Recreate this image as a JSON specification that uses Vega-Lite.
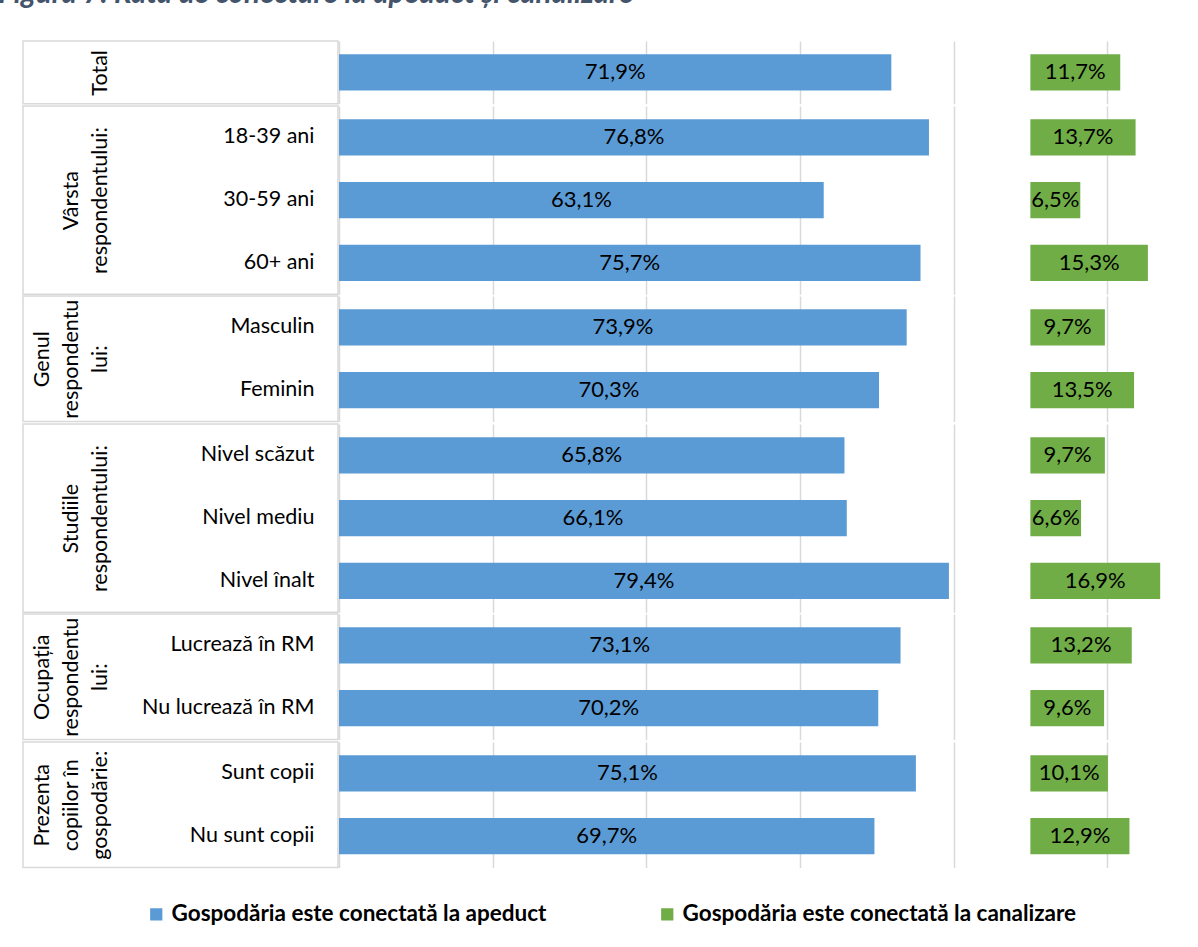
{
  "$schema": "https://vega.github.io/schema/vega-lite/v6.json",
  "padding": {"left": -2, "top": -22, "right": 0, "bottom": 0},
  "title": {"text": "Figura 7. Rata de conectare la apeduct și canalizare", "anchor": "start", "fontSize": 29.5, "font": "Lato", "fontStyle": "italic", "fontWeight": "bold", "color": "#44546A", "baseline": "bottom", "offset": 2, "dx": -24},
  "data": {"values": [
    {"group": "Total", "sub": "Total", "series": "Gospodăria este conectată la apeduct", "value": 0.719},
    {"group": "Total", "sub": "Total", "series": "Gospodăria este conectată la canalizare", "value": 0.117},
    {"group": "Vârsta", "sub": "18-39 ani", "series": "Gospodăria este conectată la apeduct", "value": 0.768},
    {"group": "Vârsta", "sub": "18-39 ani", "series": "Gospodăria este conectată la canalizare", "value": 0.137},
    {"group": "Vârsta", "sub": "30-59 ani", "series": "Gospodăria este conectată la apeduct", "value": 0.631},
    {"group": "Vârsta", "sub": "30-59 ani", "series": "Gospodăria este conectată la canalizare", "value": 0.065},
    {"group": "Vârsta", "sub": "60+ ani", "series": "Gospodăria este conectată la apeduct", "value": 0.757},
    {"group": "Vârsta", "sub": "60+ ani", "series": "Gospodăria este conectată la canalizare", "value": 0.153},
    {"group": "Genul", "sub": "Masculin", "series": "Gospodăria este conectată la apeduct", "value": 0.739},
    {"group": "Genul", "sub": "Masculin", "series": "Gospodăria este conectată la canalizare", "value": 0.097},
    {"group": "Genul", "sub": "Feminin", "series": "Gospodăria este conectată la apeduct", "value": 0.703},
    {"group": "Genul", "sub": "Feminin", "series": "Gospodăria este conectată la canalizare", "value": 0.135},
    {"group": "Studiile", "sub": "Nivel scăzut", "series": "Gospodăria este conectată la apeduct", "value": 0.658},
    {"group": "Studiile", "sub": "Nivel scăzut", "series": "Gospodăria este conectată la canalizare", "value": 0.097},
    {"group": "Studiile", "sub": "Nivel mediu", "series": "Gospodăria este conectată la apeduct", "value": 0.661},
    {"group": "Studiile", "sub": "Nivel mediu", "series": "Gospodăria este conectată la canalizare", "value": 0.066},
    {"group": "Studiile", "sub": "Nivel înalt", "series": "Gospodăria este conectată la apeduct", "value": 0.794},
    {"group": "Studiile", "sub": "Nivel înalt", "series": "Gospodăria este conectată la canalizare", "value": 0.169},
    {"group": "Ocupația", "sub": "Lucrează în RM", "series": "Gospodăria este conectată la apeduct", "value": 0.731},
    {"group": "Ocupația", "sub": "Lucrează în RM", "series": "Gospodăria este conectată la canalizare", "value": 0.132},
    {"group": "Ocupația", "sub": "Nu lucrează în RM", "series": "Gospodăria este conectată la apeduct", "value": 0.702},
    {"group": "Ocupația", "sub": "Nu lucrează în RM", "series": "Gospodăria este conectată la canalizare", "value": 0.096},
    {"group": "Prezenta", "sub": "Sunt copii", "series": "Gospodăria este conectată la apeduct", "value": 0.751},
    {"group": "Prezenta", "sub": "Sunt copii", "series": "Gospodăria este conectată la canalizare", "value": 0.101},
    {"group": "Prezenta", "sub": "Nu sunt copii", "series": "Gospodăria este conectată la apeduct", "value": 0.697},
    {"group": "Prezenta", "sub": "Nu sunt copii", "series": "Gospodăria este conectată la canalizare", "value": 0.129}
  ]},
  "spacing": 0,
  "vconcat": [
    {"spacing": 0, "hconcat": [
      {"width": 315, "height": {"step": 62.75},
       "transform": [{"filter": "datum.group === 'Total' && indexof(datum.series, 'apeduct') >= 0"}],
       "mark": {"type": "text", "opacity": 0},
       "encoding": {"y": {"field": "sub", "type": "nominal", "sort": null, "scale": {"type": "band", "paddingInner": 0, "paddingOuter": 0}, "axis": {"orient": "right", "labels": false, "title": ["Total"], "titleX": -227}}}},
      {"width": 845, "height": {"step": 62.75}, "view": {"stroke": null},
       "transform": [{"filter": "datum.group === 'Total'"}],
       "encoding": {"y": {"field": "sub", "type": "nominal", "sort": null, "scale": {"paddingInner": 0, "paddingOuter": 0}, "axis": null}},
       "layer": [
         {"transform": [{"filter": "indexof(datum.series, 'apeduct') >= 0"}], "mark": {"type": "bar", "height": {"band": 0.58}},
          "encoding": {"x": {"field": "value", "type": "quantitative", "stack": null, "scale": {"domain": [0, 1.1], "nice": false}, "axis": {"values": [0, 0.2, 0.4, 0.6, 0.8, 1], "grid": true, "labels": false, "ticks": false, "domain": false, "title": null}},
                       "color": {"field": "series", "type": "nominal", "scale": {"domain": ["Gospodăria este conectată la apeduct", "Gospodăria este conectată la canalizare"], "range": ["#5B9BD5", "#70AD47"]}, "legend": {"orient": "none", "legendX": 122, "legendY": 862, "direction": "horizontal", "title": null}}}},
         {"transform": [{"filter": "indexof(datum.series, 'canalizare') >= 0"}], "mark": {"type": "bar", "height": {"band": 0.58}},
          "encoding": {"x": {"field": "value", "type": "quantitative", "stack": null, "scale": {"domain": [-0.9, 0.2], "nice": false}, "axis": null},
                       "color": {"field": "series", "type": "nominal"}}},
         {"transform": [{"filter": "indexof(datum.series, 'apeduct') >= 0"}], "mark": {"type": "text"},
          "encoding": {"x": {"field": "value", "type": "quantitative", "scale": {"domain": [0, 2.2], "nice": false}, "axis": null}, "text": {"field": "value", "type": "quantitative", "format": ".1%"}}},
         {"transform": [{"filter": "indexof(datum.series, 'canalizare') >= 0"}], "mark": {"type": "text"},
          "encoding": {"x": {"field": "value", "type": "quantitative", "scale": {"domain": [-1.8, 0.4], "nice": false}, "axis": null}, "text": {"field": "value", "type": "quantitative", "format": ".1%"}}}
       ],
       "resolve": {"scale": {"x": "independent"}, "axis": {"x": "independent"}}}
    ]},
    {"spacing": 0, "hconcat": [
      {"width": 315, "height": {"step": 62.75},
       "transform": [{"filter": "datum.group === 'Vârsta' && indexof(datum.series, 'apeduct') >= 0"}],
       "mark": {"type": "text", "opacity": 0},
       "encoding": {"y": {"field": "sub", "type": "nominal", "sort": null, "scale": {"type": "band", "paddingInner": 0, "paddingOuter": 0}, "axis": {"orient": "right", "title": ["Vârsta", "respondentului:"], "titleX": -256}}}},
      {"width": 845, "height": {"step": 62.75}, "view": {"stroke": null},
       "transform": [{"filter": "datum.group === 'Vârsta'"}],
       "encoding": {"y": {"field": "sub", "type": "nominal", "sort": null, "scale": {"paddingInner": 0, "paddingOuter": 0}, "axis": null}},
       "layer": [
         {"transform": [{"filter": "indexof(datum.series, 'apeduct') >= 0"}], "mark": {"type": "bar", "height": {"band": 0.58}},
          "encoding": {"x": {"field": "value", "type": "quantitative", "stack": null, "scale": {"domain": [0, 1.1], "nice": false}, "axis": {"values": [0, 0.2, 0.4, 0.6, 0.8, 1], "grid": true, "labels": false, "ticks": false, "domain": false, "title": null}},
                       "color": {"field": "series", "type": "nominal"}}},
         {"transform": [{"filter": "indexof(datum.series, 'canalizare') >= 0"}], "mark": {"type": "bar", "height": {"band": 0.58}},
          "encoding": {"x": {"field": "value", "type": "quantitative", "stack": null, "scale": {"domain": [-0.9, 0.2], "nice": false}, "axis": null},
                       "color": {"field": "series", "type": "nominal"}}},
         {"transform": [{"filter": "indexof(datum.series, 'apeduct') >= 0"}], "mark": {"type": "text"},
          "encoding": {"x": {"field": "value", "type": "quantitative", "scale": {"domain": [0, 2.2], "nice": false}, "axis": null}, "text": {"field": "value", "type": "quantitative", "format": ".1%"}}},
         {"transform": [{"filter": "indexof(datum.series, 'canalizare') >= 0"}], "mark": {"type": "text"},
          "encoding": {"x": {"field": "value", "type": "quantitative", "scale": {"domain": [-1.8, 0.4], "nice": false}, "axis": null}, "text": {"field": "value", "type": "quantitative", "format": ".1%"}}}
       ],
       "resolve": {"scale": {"x": "independent"}, "axis": {"x": "independent"}}}
    ]},
    {"spacing": 0, "hconcat": [
      {"width": 315, "height": {"step": 62.75},
       "transform": [{"filter": "datum.group === 'Genul' && indexof(datum.series, 'apeduct') >= 0"}],
       "mark": {"type": "text", "opacity": 0},
       "encoding": {"y": {"field": "sub", "type": "nominal", "sort": null, "scale": {"type": "band", "paddingInner": 0, "paddingOuter": 0}, "axis": {"orient": "right", "title": ["Genul", "respondentu", "lui:"], "titleX": -285}}}},
      {"width": 845, "height": {"step": 62.75}, "view": {"stroke": null},
       "transform": [{"filter": "datum.group === 'Genul'"}],
       "encoding": {"y": {"field": "sub", "type": "nominal", "sort": null, "scale": {"paddingInner": 0, "paddingOuter": 0}, "axis": null}},
       "layer": [
         {"transform": [{"filter": "indexof(datum.series, 'apeduct') >= 0"}], "mark": {"type": "bar", "height": {"band": 0.58}},
          "encoding": {"x": {"field": "value", "type": "quantitative", "stack": null, "scale": {"domain": [0, 1.1], "nice": false}, "axis": {"values": [0, 0.2, 0.4, 0.6, 0.8, 1], "grid": true, "labels": false, "ticks": false, "domain": false, "title": null}},
                       "color": {"field": "series", "type": "nominal"}}},
         {"transform": [{"filter": "indexof(datum.series, 'canalizare') >= 0"}], "mark": {"type": "bar", "height": {"band": 0.58}},
          "encoding": {"x": {"field": "value", "type": "quantitative", "stack": null, "scale": {"domain": [-0.9, 0.2], "nice": false}, "axis": null},
                       "color": {"field": "series", "type": "nominal"}}},
         {"transform": [{"filter": "indexof(datum.series, 'apeduct') >= 0"}], "mark": {"type": "text"},
          "encoding": {"x": {"field": "value", "type": "quantitative", "scale": {"domain": [0, 2.2], "nice": false}, "axis": null}, "text": {"field": "value", "type": "quantitative", "format": ".1%"}}},
         {"transform": [{"filter": "indexof(datum.series, 'canalizare') >= 0"}], "mark": {"type": "text"},
          "encoding": {"x": {"field": "value", "type": "quantitative", "scale": {"domain": [-1.8, 0.4], "nice": false}, "axis": null}, "text": {"field": "value", "type": "quantitative", "format": ".1%"}}}
       ],
       "resolve": {"scale": {"x": "independent"}, "axis": {"x": "independent"}}}
    ]},
    {"spacing": 0, "hconcat": [
      {"width": 315, "height": {"step": 62.75},
       "transform": [{"filter": "datum.group === 'Studiile' && indexof(datum.series, 'apeduct') >= 0"}],
       "mark": {"type": "text", "opacity": 0},
       "encoding": {"y": {"field": "sub", "type": "nominal", "sort": null, "scale": {"type": "band", "paddingInner": 0, "paddingOuter": 0}, "axis": {"orient": "right", "title": ["Studiile", "respondentului:"], "titleX": -256}}}},
      {"width": 845, "height": {"step": 62.75}, "view": {"stroke": null},
       "transform": [{"filter": "datum.group === 'Studiile'"}],
       "encoding": {"y": {"field": "sub", "type": "nominal", "sort": null, "scale": {"paddingInner": 0, "paddingOuter": 0}, "axis": null}},
       "layer": [
         {"transform": [{"filter": "indexof(datum.series, 'apeduct') >= 0"}], "mark": {"type": "bar", "height": {"band": 0.58}},
          "encoding": {"x": {"field": "value", "type": "quantitative", "stack": null, "scale": {"domain": [0, 1.1], "nice": false}, "axis": {"values": [0, 0.2, 0.4, 0.6, 0.8, 1], "grid": true, "labels": false, "ticks": false, "domain": false, "title": null}},
                       "color": {"field": "series", "type": "nominal"}}},
         {"transform": [{"filter": "indexof(datum.series, 'canalizare') >= 0"}], "mark": {"type": "bar", "height": {"band": 0.58}},
          "encoding": {"x": {"field": "value", "type": "quantitative", "stack": null, "scale": {"domain": [-0.9, 0.2], "nice": false}, "axis": null},
                       "color": {"field": "series", "type": "nominal"}}},
         {"transform": [{"filter": "indexof(datum.series, 'apeduct') >= 0"}], "mark": {"type": "text"},
          "encoding": {"x": {"field": "value", "type": "quantitative", "scale": {"domain": [0, 2.2], "nice": false}, "axis": null}, "text": {"field": "value", "type": "quantitative", "format": ".1%"}}},
         {"transform": [{"filter": "indexof(datum.series, 'canalizare') >= 0"}], "mark": {"type": "text"},
          "encoding": {"x": {"field": "value", "type": "quantitative", "scale": {"domain": [-1.8, 0.4], "nice": false}, "axis": null}, "text": {"field": "value", "type": "quantitative", "format": ".1%"}}}
       ],
       "resolve": {"scale": {"x": "independent"}, "axis": {"x": "independent"}}}
    ]},
    {"spacing": 0, "hconcat": [
      {"width": 315, "height": {"step": 62.75},
       "transform": [{"filter": "datum.group === 'Ocupația' && indexof(datum.series, 'apeduct') >= 0"}],
       "mark": {"type": "text", "opacity": 0},
       "encoding": {"y": {"field": "sub", "type": "nominal", "sort": null, "scale": {"type": "band", "paddingInner": 0, "paddingOuter": 0}, "axis": {"orient": "right", "title": ["Ocupația", "respondentu", "lui:"], "titleX": -285}}}},
      {"width": 845, "height": {"step": 62.75}, "view": {"stroke": null},
       "transform": [{"filter": "datum.group === 'Ocupația'"}],
       "encoding": {"y": {"field": "sub", "type": "nominal", "sort": null, "scale": {"paddingInner": 0, "paddingOuter": 0}, "axis": null}},
       "layer": [
         {"transform": [{"filter": "indexof(datum.series, 'apeduct') >= 0"}], "mark": {"type": "bar", "height": {"band": 0.58}},
          "encoding": {"x": {"field": "value", "type": "quantitative", "stack": null, "scale": {"domain": [0, 1.1], "nice": false}, "axis": {"values": [0, 0.2, 0.4, 0.6, 0.8, 1], "grid": true, "labels": false, "ticks": false, "domain": false, "title": null}},
                       "color": {"field": "series", "type": "nominal"}}},
         {"transform": [{"filter": "indexof(datum.series, 'canalizare') >= 0"}], "mark": {"type": "bar", "height": {"band": 0.58}},
          "encoding": {"x": {"field": "value", "type": "quantitative", "stack": null, "scale": {"domain": [-0.9, 0.2], "nice": false}, "axis": null},
                       "color": {"field": "series", "type": "nominal"}}},
         {"transform": [{"filter": "indexof(datum.series, 'apeduct') >= 0"}], "mark": {"type": "text"},
          "encoding": {"x": {"field": "value", "type": "quantitative", "scale": {"domain": [0, 2.2], "nice": false}, "axis": null}, "text": {"field": "value", "type": "quantitative", "format": ".1%"}}},
         {"transform": [{"filter": "indexof(datum.series, 'canalizare') >= 0"}], "mark": {"type": "text"},
          "encoding": {"x": {"field": "value", "type": "quantitative", "scale": {"domain": [-1.8, 0.4], "nice": false}, "axis": null}, "text": {"field": "value", "type": "quantitative", "format": ".1%"}}}
       ],
       "resolve": {"scale": {"x": "independent"}, "axis": {"x": "independent"}}}
    ]},
    {"spacing": 0, "hconcat": [
      {"width": 315, "height": {"step": 62.75},
       "transform": [{"filter": "datum.group === 'Prezenta' && indexof(datum.series, 'apeduct') >= 0"}],
       "mark": {"type": "text", "opacity": 0},
       "encoding": {"y": {"field": "sub", "type": "nominal", "sort": null, "scale": {"type": "band", "paddingInner": 0, "paddingOuter": 0}, "axis": {"orient": "right", "title": ["Prezenta", "copiilor în", "gospodărie:"], "titleX": -285}}}},
      {"width": 845, "height": {"step": 62.75}, "view": {"stroke": null},
       "transform": [{"filter": "datum.group === 'Prezenta'"}],
       "encoding": {"y": {"field": "sub", "type": "nominal", "sort": null, "scale": {"paddingInner": 0, "paddingOuter": 0}, "axis": null}},
       "layer": [
         {"transform": [{"filter": "indexof(datum.series, 'apeduct') >= 0"}], "mark": {"type": "bar", "height": {"band": 0.58}},
          "encoding": {"x": {"field": "value", "type": "quantitative", "stack": null, "scale": {"domain": [0, 1.1], "nice": false}, "axis": {"values": [0, 0.2, 0.4, 0.6, 0.8, 1], "grid": true, "labels": false, "ticks": false, "domain": false, "title": null}},
                       "color": {"field": "series", "type": "nominal"}}},
         {"transform": [{"filter": "indexof(datum.series, 'canalizare') >= 0"}], "mark": {"type": "bar", "height": {"band": 0.58}},
          "encoding": {"x": {"field": "value", "type": "quantitative", "stack": null, "scale": {"domain": [-0.9, 0.2], "nice": false}, "axis": null},
                       "color": {"field": "series", "type": "nominal"}}},
         {"transform": [{"filter": "indexof(datum.series, 'apeduct') >= 0"}], "mark": {"type": "text"},
          "encoding": {"x": {"field": "value", "type": "quantitative", "scale": {"domain": [0, 2.2], "nice": false}, "axis": null}, "text": {"field": "value", "type": "quantitative", "format": ".1%"}}},
         {"transform": [{"filter": "indexof(datum.series, 'canalizare') >= 0"}], "mark": {"type": "text"},
          "encoding": {"x": {"field": "value", "type": "quantitative", "scale": {"domain": [-1.8, 0.4], "nice": false}, "axis": null}, "text": {"field": "value", "type": "quantitative", "format": ".1%"}}}
       ],
       "resolve": {"scale": {"x": "independent"}, "axis": {"x": "independent"}}}
    ]}
  ],
  "config": {
    "font": "Lato",
    "locale": {"number": {"decimal": ",", "thousands": ".", "grouping": [3], "currency": ["", " €"]}},
    "view": {"stroke": "#d9d9d9", "strokeWidth": 1.5},
    "axisX": {"gridColor": "#d9d9d9", "gridWidth": 1.5},
    "axisY": {"ticks": false, "domain": false, "labelAlign": "right", "labelBaseline": "middle", "labelPadding": -24, "labelFont": "Lato", "labelFontSize": 21.5, "labelColor": "#000000", "labelLimit": 0,
              "titleAngle": 270, "titleAlign": "center", "titleBaseline": "bottom", "titleFont": "Lato", "titleFontWeight": "normal", "titleFontSize": 21.5, "titleColor": "#000000", "titleLineHeight": 29},
    "text": {"font": "Lato", "fontSize": 22, "color": "#000000", "align": "center", "baseline": "middle"},
    "legend": {"symbolType": "square", "symbolSize": 150, "symbolStrokeWidth": 0, "labelFont": "Lato", "labelFontWeight": "bold", "labelFontSize": 22.5, "labelColor": "#000000", "labelLimit": 0, "columnPadding": 109, "labelOffset": 4, "padding": 0}
  }
}
